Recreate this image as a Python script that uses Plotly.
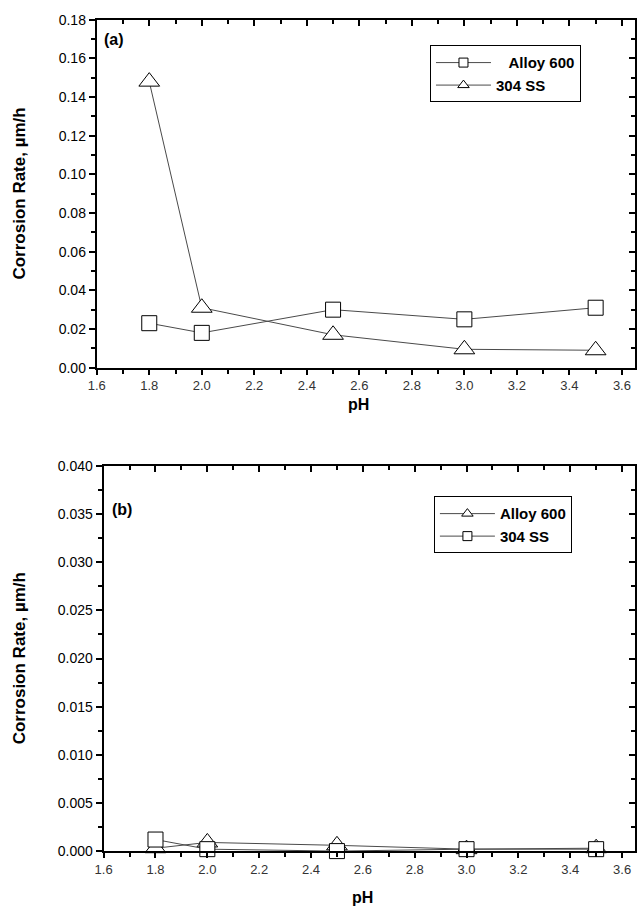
import plotly.graph_objects as go

# ---------------- data ----------------
ph = [1.8, 2.0, 2.5, 3.0, 3.5]

# panel (a)
a_alloy600 = [0.023, 0.018, 0.030, 0.025, 0.031]
a_ss304 = [0.148, 0.031, 0.017, 0.0095, 0.009]

# panel (b)
b_alloy600 = [0.0003, 0.0009, 0.0006, 0.0002, 0.0003]
b_ss304 = [0.0012, 0.0002, 0.0000, 0.0002, 0.0002]

a_yticks = [0.00, 0.02, 0.04, 0.06, 0.08, 0.10, 0.12, 0.14, 0.16, 0.18]
b_yticks = [0.000, 0.005, 0.010, 0.015, 0.020, 0.025, 0.030, 0.035, 0.040]
xticks = [1.6, 1.8, 2.0, 2.2, 2.4, 2.6, 2.8, 3.0, 3.2, 3.4, 3.6]

W, H = 638, 921
FONT = "Liberation Sans, Arial, sans-serif"

def px_x(v):
    return v / W

def px_y(v):
    return 1 - v / H

# plot areas in pixels
A_L, A_R, A_T, A_B = 89, 635, 12, 366
B_L, B_R, B_T, B_B = 96, 635, 466, 858

fig = go.Figure()

LINE_C = "#4a4a4a"

def sym_size(sym):
    return 18 if sym.startswith("triangle") else 15

def add_series(x, y, sym, name, xa, ya, legend):
    # data trace
    fig.add_trace(go.Scatter(
        x=x, y=y, mode="lines+markers", name=name, showlegend=False,
        xaxis=xa, yaxis=ya, cliponaxis=False,
        line=dict(color=LINE_C, width=1),
        marker=dict(symbol=sym, size=sym_size(sym),
                    color="white", line=dict(color="black", width=1)),
    ))
    # legend entry (no data) with smaller symbol, as in the reference
    fig.add_trace(go.Scatter(
        x=[None], y=[None], mode="lines+markers", name=name, showlegend=True,
        xaxis=xa, yaxis=ya, legend=legend,
        line=dict(color=LINE_C, width=1),
        marker=dict(symbol=sym, size=10 if sym.startswith("triangle") else 9,
                    color="white", line=dict(color="black", width=1)),
    ))

NB = "\u00a0"
# panel (a)
add_series(ph, a_alloy600, "square", NB * 3 + "Alloy 600", "x", "y", "legend")
add_series(ph, a_ss304, "triangle-up", "304 SS", "x", "y", "legend")
# panel (b)
add_series(ph, b_alloy600, "triangle-up", "Alloy 600", "x2", "y2", "legend2")
add_series(ph, b_ss304, "square", "304 SS", "x2", "y2", "legend2")

# empty traces for the inward mirrored ticks (top/right)
fig.add_trace(go.Scatter(x=[], y=[], xaxis="x3", yaxis="y3", showlegend=False))
fig.add_trace(go.Scatter(x=[], y=[], xaxis="x4", yaxis="y4", showlegend=False))

xrange_ = [1.6, 3.65]
tickfont_x = dict(family=FONT, size=13, color="#333333")
tickfont_y = dict(family=FONT, size=14, color="black")

def main_x(dom, anchor):
    return dict(domain=dom, anchor=anchor, range=xrange_, tickvals=xticks,
                ticktext=[f"{v:.1f}" for v in xticks],
                ticks="outside", ticklen=5, tickwidth=2, tickcolor="black",
                minor=dict(dtick=0.1, ticks="outside", ticklen=4, tickwidth=2, tickcolor="black"),
                showline=True, linecolor="black", linewidth=2,
                showgrid=False, zeroline=False, tickfont=tickfont_x, ticklabelstandoff=0)

def main_y(dom, anchor, ticks, rng, dminor, fmt):
    return dict(domain=dom, anchor=anchor, range=rng, tickvals=ticks,
                ticktext=[fmt.format(v) for v in ticks],
                ticks="outside", ticklen=6, tickwidth=2, tickcolor="black",
                minor=dict(dtick=dminor, ticks="outside", ticklen=4, tickwidth=2, tickcolor="black"),
                showline=True, linecolor="black", linewidth=2,
                showgrid=False, zeroline=False, tickfont=tickfont_y)

def over_x(over, anchor):
    return dict(overlaying=over, anchor=anchor, side="top", range=xrange_,
                tickvals=xticks, showticklabels=False,
                ticks="inside", ticklen=6, tickwidth=2, tickcolor="black",
                minor=dict(dtick=0.1, ticks="inside", ticklen=4, tickwidth=2, tickcolor="black"),
                showline=True, linecolor="black", linewidth=2,
                showgrid=False, zeroline=False)

def over_y(over, anchor, ticks, rng, dminor):
    return dict(overlaying=over, anchor=anchor, side="right", range=rng,
                tickvals=ticks, showticklabels=False,
                ticks="inside", ticklen=6, tickwidth=2, tickcolor="black",
                minor=dict(dtick=dminor, ticks="inside", ticklen=4, tickwidth=2, tickcolor="black"),
                showline=True, linecolor="black", linewidth=2,
                showgrid=False, zeroline=False)

a_xdom = [px_x(A_L), px_x(A_R)]
a_ydom = [px_y(A_B), px_y(A_T)]
b_xdom = [px_x(B_L), px_x(B_R)]
b_ydom = [px_y(B_B), px_y(B_T)]

leg_font = dict(family=FONT, size=15, color="black", weight="bold")
fig.update_layout(
    width=W, height=H,
    margin=dict(l=0, r=0, t=0, b=0),
    paper_bgcolor="white", plot_bgcolor="white",
    font=dict(family=FONT, color="black"),
    xaxis=main_x(a_xdom, "y"),
    yaxis=main_y(a_ydom, "x", a_yticks, [0, 0.18], 0.01, "{:.2f}"),
    xaxis2=main_x(b_xdom, "y2"),
    yaxis2=main_y(b_ydom, "x2", b_yticks, [0, 0.04], 0.0025, "{:.3f}"),
    xaxis3=over_x("x", "y"),
    yaxis3=over_y("y", "x", a_yticks, [0, 0.18], 0.01),
    xaxis4=over_x("x2", "y2"),
    yaxis4=over_y("y2", "x2", b_yticks, [0, 0.04], 0.0025),
    legend=dict(x=px_x(427), y=px_y(38), xanchor="left", yanchor="top",
                bordercolor="black", borderwidth=1, bgcolor="white",
                font=leg_font, tracegroupgap=0, itemwidth=55),
    legend2=dict(x=px_x(431), y=px_y(497), xanchor="left", yanchor="top",
                 bordercolor="black", borderwidth=1, bgcolor="white",
                 font=leg_font, tracegroupgap=0, itemwidth=55),
    showlegend=True,
)

title_font = dict(family=FONT, size=16, color="black", weight="bold")
ann = [
    dict(text="(a)", x=px_x(94), y=px_y(32), xanchor="left", yanchor="middle", font=title_font),
    dict(text="(b)", x=px_x(102), y=px_y(510), xanchor="left", yanchor="middle", font=title_font),
    dict(text="pH", x=px_x((A_L + 621) / 2), y=px_y(404), xanchor="center", yanchor="middle", font=title_font),
    dict(text="pH", x=px_x((B_L + 622) / 2), y=px_y(905), xanchor="center", yanchor="middle", font=title_font),
    dict(text="Corrosion Rate, µm/h", x=px_x(11), y=px_y((A_T + A_B) / 2), textangle=-90,
         xanchor="center", yanchor="middle", font=dict(title_font, size=17)),
    dict(text="Corrosion Rate, µm/h", x=px_x(11), y=px_y((B_T + B_B) / 2), textangle=-90,
         xanchor="center", yanchor="middle", font=dict(title_font, size=17)),
]
for a in ann:
    a.update(xref="paper", yref="paper", showarrow=False)
fig.update_layout(annotations=ann)

fig.write_html("out.html")
